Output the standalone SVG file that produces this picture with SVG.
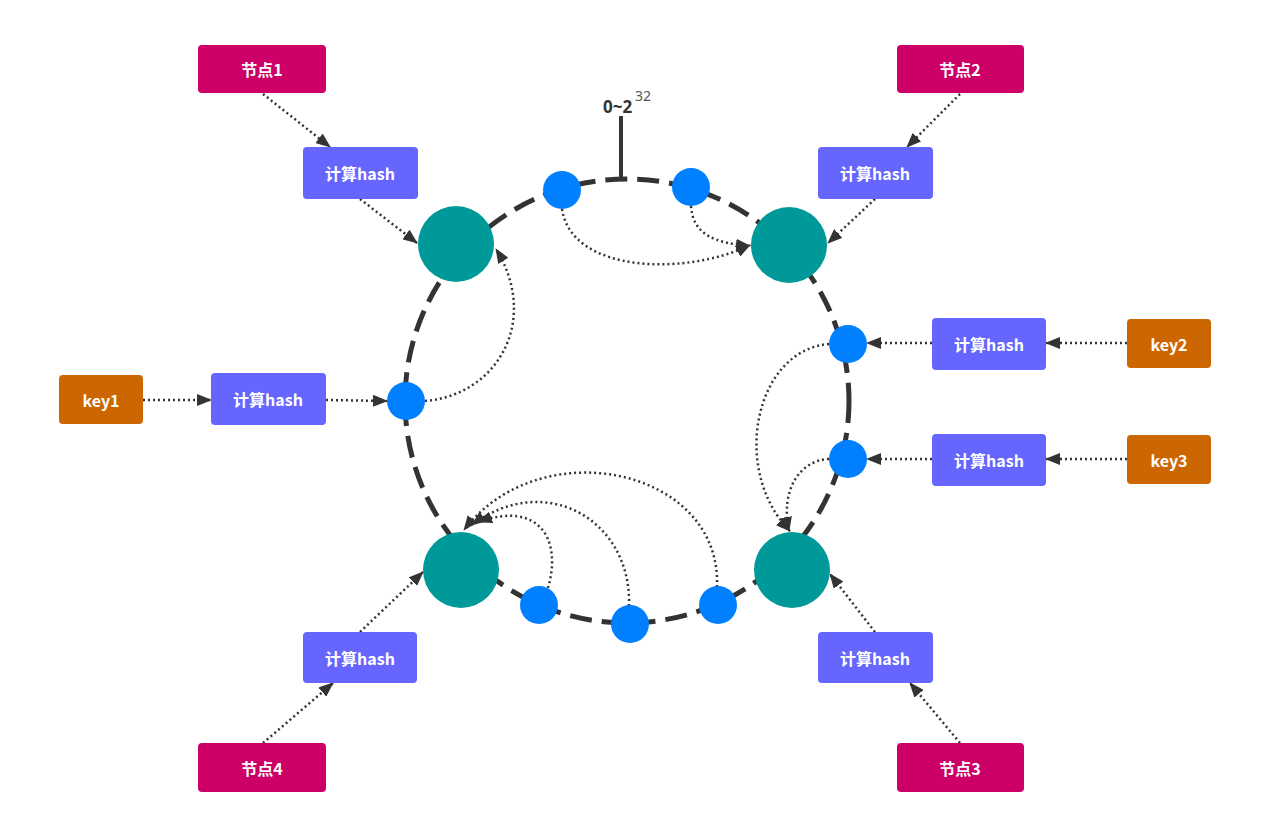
<svg xmlns="http://www.w3.org/2000/svg" width="1279" height="821" viewBox="0 0 1279 821">
<style>
.lbl{font-family:"Noto Sans CJK SC","Noto Sans","Liberation Sans",sans-serif;font-weight:bold;font-size:16px;fill:#ffffff;text-anchor:middle;dominant-baseline:central}
.node{fill:#CC0066}
.hash{fill:#6666FF}
.key{fill:#CC6600}
.srv{fill:#009999}
.pt{fill:#0080FF}
.dot{fill:none;stroke:#333;stroke-width:2.5;stroke-dasharray:2 3;marker-end:url(#arr)}
.ring{fill:none;stroke:#333;stroke-width:5;stroke-dasharray:22 10}
</style>
<defs>
<marker id="arr" viewBox="0 0 15 12" refX="14" refY="6" markerWidth="15" markerHeight="12" markerUnits="userSpaceOnUse" orient="auto">
<path d="M0,0 L15,6 L0,12 z" fill="#333"/>
</marker>
</defs>
<rect width="1279" height="821" fill="#ffffff"/>

<g id="ring">
<circle class="ring" cx="627" cy="401" r="222"/>
<line x1="621" y1="116" x2="621" y2="180" stroke="#333" stroke-width="4"/>
<text x="603" y="113" font-family="'Noto Sans','Liberation Sans',sans-serif" font-weight="bold" font-size="17" fill="#333">0~2</text>
<text x="635" y="101" font-family="'Noto Sans','Liberation Sans',sans-serif" font-size="14" fill="#555">32</text>
</g>

<g id="connectors">
<path class="dot" d="M263,94 L330,147"/>
<path class="dot" d="M360,199 L417,243"/>
<path class="dot" d="M960,94 L907,147"/>
<path class="dot" d="M875,199 L828,243"/>
<path class="dot" d="M143,400 L211,400"/>
<path class="dot" d="M326,400 L387,401"/>
<path class="dot" d="M1127,343 L1046,343"/>
<path class="dot" d="M932,343 L867,343"/>
<path class="dot" d="M1127,459 L1046,459"/>
<path class="dot" d="M932,459 L867,459"/>
<path class="dot" d="M360,632 L423,572"/>
<path class="dot" d="M263,743 L333,683"/>
<path class="dot" d="M875,632 L830,574"/>
<path class="dot" d="M960,743 L910,683"/>
<path class="dot" d="M425,401 C498,395 540,320 496,249"/>
<path class="dot" d="M562,209 C572,275 690,275 750,245"/>
<path class="dot" d="M691,206 C693,235 715,243 750,246"/>
<path class="dot" d="M829,344 C755,350 730,470 790,531"/>
<path class="dot" d="M829,459 C800,460 780,490 789,531"/>
<path class="dot" d="M548,588 C562,540 540,500 478,522"/>
<path class="dot" d="M629,606 C632,520 545,470 472,525"/>
<path class="dot" d="M717,587 C722,468 540,430 464,530"/>
</g>

<g id="server-tl"><circle class="srv" cx="456" cy="244" r="38"/></g>
<g id="server-tr"><circle class="srv" cx="789" cy="245" r="38"/></g>
<g id="server-bl"><circle class="srv" cx="461" cy="570" r="38"/></g>
<g id="server-br"><circle class="srv" cx="792" cy="570" r="38"/></g>

<g id="pt-top1"><circle class="pt" cx="562" cy="190" r="19"/></g>
<g id="pt-top2"><circle class="pt" cx="691" cy="187" r="19"/></g>
<g id="pt-key1"><circle class="pt" cx="406" cy="401" r="19"/></g>
<g id="pt-key2"><circle class="pt" cx="848" cy="344" r="19"/></g>
<g id="pt-key3"><circle class="pt" cx="848" cy="459" r="19"/></g>
<g id="pt-bot1"><circle class="pt" cx="539" cy="605" r="19"/></g>
<g id="pt-bot2"><circle class="pt" cx="630" cy="624" r="19"/></g>
<g id="pt-bot3"><circle class="pt" cx="718" cy="605" r="19"/></g>

<g id="node1"><rect class="node" x="198" y="45" width="128" height="48" rx="4"/><text class="lbl" x="262" y="69">节点1</text></g>
<g id="node2"><rect class="node" x="897" y="45" width="127" height="48" rx="4"/><text class="lbl" x="960" y="69">节点2</text></g>
<g id="node3"><rect class="node" x="897" y="743" width="127" height="49" rx="4"/><text class="lbl" x="960" y="768">节点3</text></g>
<g id="node4"><rect class="node" x="198" y="743" width="128" height="49" rx="4"/><text class="lbl" x="262" y="768">节点4</text></g>

<g id="hash-tl"><rect class="hash" x="303" y="147" width="115" height="52" rx="4"/><text class="lbl" x="360" y="173">计算hash</text></g>
<g id="hash-tr"><rect class="hash" x="818" y="147" width="115" height="52" rx="4"/><text class="lbl" x="875" y="173">计算hash</text></g>
<g id="hash-l"><rect class="hash" x="211" y="373" width="115" height="52" rx="4"/><text class="lbl" x="268" y="399">计算hash</text></g>
<g id="hash-r1"><rect class="hash" x="932" y="318" width="114" height="52" rx="4"/><text class="lbl" x="989" y="344">计算hash</text></g>
<g id="hash-r2"><rect class="hash" x="932" y="434" width="114" height="52" rx="4"/><text class="lbl" x="989" y="460">计算hash</text></g>
<g id="hash-bl"><rect class="hash" x="303" y="632" width="114" height="51" rx="4"/><text class="lbl" x="360" y="658">计算hash</text></g>
<g id="hash-br"><rect class="hash" x="818" y="632" width="115" height="51" rx="4"/><text class="lbl" x="875" y="658">计算hash</text></g>

<g id="key1"><rect class="key" x="59" y="375" width="84" height="49" rx="4"/><text class="lbl" x="101" y="400">key1</text></g>
<g id="key2"><rect class="key" x="1127" y="319" width="84" height="49" rx="4"/><text class="lbl" x="1169" y="344">key2</text></g>
<g id="key3"><rect class="key" x="1127" y="435" width="84" height="49" rx="4"/><text class="lbl" x="1169" y="460">key3</text></g>
</svg>
